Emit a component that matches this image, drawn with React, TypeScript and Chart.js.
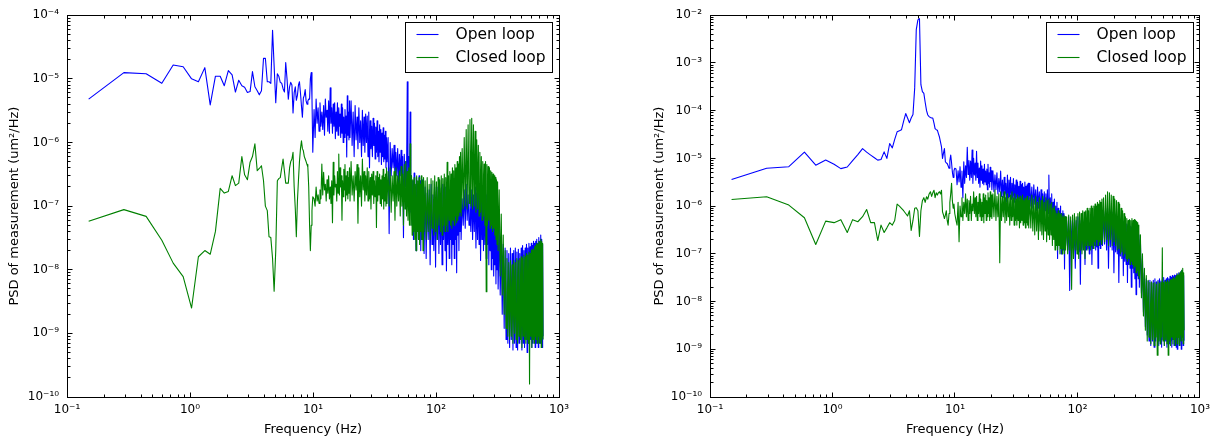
import React, { useEffect, useRef } from 'react';
import { Chart, registerables } from 'chart.js';

Chart.register(...registerables);

// Frequency bins (Hz), shared by all four traces
const freqHz = [
  0.15, 0.29, 0.44, 0.59, 0.73, 0.88, 1.03, 1.17, 1.32, 1.46,
  1.61, 1.76, 1.9, 2.05, 2.2, 2.34, 2.49, 2.64, 2.78, 2.93,
  3.08, 3.22, 3.37, 3.52, 3.66, 3.81, 3.96, 4.1, 4.25, 4.39,
  4.54, 4.69, 4.83, 4.98, 5.13, 5.27, 5.42, 5.57, 5.71, 5.86,
  6.0, 6.15, 6.3, 6.45, 6.59, 6.74, 6.88, 7.03, 7.18, 7.32,
  7.47, 7.62, 7.76, 7.91, 8.06, 8.2, 8.35, 8.5, 8.64, 8.79,
  8.94, 9.08, 9.23, 9.38, 9.52, 9.67, 9.81, 9.96,
  10.2, 10.4, 10.6, 10.8, 11, 11.2, 11.4, 11.6, 11.8, 12, 12.2, 12.4, 12.6, 12.8, 13, 13.2, 13.4, 13.6, 13.8, 14, 14.2, 14.4, 14.6, 14.8, 15,
  15.2, 15.4, 15.6, 15.8, 16, 16.2, 16.4, 16.6, 16.8, 17, 17.2, 17.4, 17.6, 17.8, 18, 18.2, 18.4, 18.6, 18.8, 19, 19.2, 19.4, 19.6, 19.8, 20,
  20.4, 20.8, 21.2, 21.6, 22, 22.4, 22.8, 23.2, 23.6, 24, 24.4, 24.8, 25.2, 25.6, 26, 26.4, 26.8, 27.2, 27.6, 28, 28.4, 28.8, 29.2, 29.6, 30,
  30.4, 30.8, 31.2, 31.6, 32, 32.4, 32.8, 33.2, 33.6, 34, 34.4, 34.8, 35.2, 35.6, 36, 36.4, 36.8, 37.2, 37.6, 38, 38.4, 38.8, 39.2, 39.6, 40,
  40.8, 41.6, 42.4, 43.2, 44, 44.8, 45.6, 46.4, 47.2, 48, 48.8, 49.6, 50.4, 51.2, 52, 52.8, 53.6, 54.4, 55.2, 56, 56.8, 57.6, 58.4, 59.2, 60,
  60.8, 61.6, 62.4, 63.2, 64, 64.8, 65.6, 66.4, 67.2, 68, 68.8, 69.6, 70.4, 71.2, 72, 72.8, 73.6, 74.4, 75.2, 76, 76.8, 77.6, 78.4, 79.2, 80,
  81.6, 83.2, 84.8, 86.4, 88, 89.6, 91.2, 92.8, 94.4, 96, 97.6, 99.2, 100.8, 102.4, 104, 105.6, 107.2, 108.8, 110.4, 112, 113.6, 115.2, 116.8, 118.4, 120,
  121.6, 123.2, 124.8, 126.4, 128, 129.6, 131.2, 132.8, 134.4, 136, 137.6, 139.2, 140.8, 142.4, 144, 145.6, 147.2, 148.8, 150.4, 152, 153.6, 155.2, 156.8, 158.4, 160,
  163.2, 166.4, 169.6, 172.8, 176, 179.2, 182.4, 185.6, 188.8, 192, 195.2, 198.4, 201.6, 204.8, 208, 211.2, 214.4, 217.6, 220.8, 224, 227.2, 230.4, 233.6, 236.8, 240,
  243.2, 246.4, 249.6, 252.8, 256, 259.2, 262.4, 265.6, 268.8, 272, 275.2, 278.4, 281.6, 284.8, 288, 291.2, 294.4, 297.6, 300.8, 304, 307.2, 310.4, 313.6, 316.8, 320,
  326.4, 332.8, 339.2, 345.6, 352, 358.4, 364.8, 371.2, 377.6, 384, 390.4, 396.8, 403.2, 409.6, 416, 422.4, 428.8, 435.2, 441.6, 448, 454.4, 460.8, 467.2, 473.6, 480,
  486.4, 492.8, 499.2, 505.6, 512, 518.4, 524.8, 531.2, 537.6, 544, 550.4, 556.8, 563.2, 569.6, 576, 582.4, 588.8, 595.2, 601.6, 608, 614.4, 620.8, 627.2, 633.6, 640,
  646.4, 652.8, 659.2, 665.6, 672, 678.4, 684.8, 691.2, 697.6, 704, 710.4, 716.8, 723.2, 729.6, 736, 742.4,
];

// Left panel, open loop (um^2/Hz)
const openLoopA = [
  4.8e-6, 1.25e-5, 1.2e-5, 8.5e-6, 1.65e-5, 1.55e-5, 1.0e-5, 9e-6, 1.5e-5, 3.9e-6,
  1.1e-5, 1.1e-5, 7.8e-6, 1.35e-5, 1.15e-5, 6.2e-6, 9.5e-6, 7.8e-6, 7.4e-6, 6.1e-6,
  6.3e-6, 1.3e-5, 7.5e-6, 6.5e-6, 5.6e-6, 6.5e-6, 2.1e-5, 2.1e-5, 9e-6, 9e-6,
  8.5e-6, 5.8e-5, 1.6e-5, 4.2e-6, 1.2e-5, 1.1e-5, 8.8e-6, 8.5e-6, 7e-6, 6.2e-6,
  1.8e-5, 1.0e-5, 4.8e-6, 7.5e-6, 8.8e-6, 8e-6, 2.9e-6, 6e-6, 7.5e-6, 4.6e-6,
  5.5e-6, 8e-6, 9e-6, 6e-6, 3.7e-6, 2.5e-6, 5e-6, 5.5e-6, 6.8e-6, 4.5e-6,
  4e-6, 4.5e-6, 4.8e-6, 4.8e-6, 1.0e-5, 1.25e-5, 5e-6, 7e-7,
  3.3e-6, 1.2e-6, 4.8e-6, 2e-6, 3.5e-6, 1.5e-6, 4.2e-6, 1.8e-6, 3e-6, 1.6e-6, 3.8e-6, 1.3e-6, 4.8e-6, 2.5e-6, 3.2e-6, 1.5e-6, 4.5e-6, 1.4e-6, 7.2e-6, 2e-6, 3.5e-6, 1.4e-6, 4e-6, 1.8e-6, 4.2e-6,
  1.15e-6, 3e-6, 1.5e-6, 4.2e-6, 1.3e-6, 3.5e-6, 1.8e-6, 2.8e-6, 1.2e-6, 4e-6, 1.4e-6, 3.5e-6, 1e-6, 2.5e-6, 1.2e-6, 3.3e-6, 1.4e-6, 2.6e-6, 5.9e-7, 5.4e-6, 1.3e-6, 3e-6, 1.1e-6, 4.5e-6, 1.2e-6,
  4.5e-6, 9e-7, 3e-6, 6e-7, 3.8e-6, 1.1e-6, 2.5e-6, 8e-7, 3.5e-6, 1e-6, 2.2e-6, 6e-7, 3.2e-6, 9e-7, 2.5e-6, 7e-7, 2.8e-6, 1e-6, 2.6e-6, 6e-7, 3e-6, 4e-7, 2.2e-6, 8e-7, 1.8e-6,
  6e-7, 2.4e-6, 9e-7, 2e-6, 5.5e-7, 1.75e-6, 7e-7, 2.2e-6, 6e-7, 1.5e-6, 5e-7, 1.9e-6, 7e-7, 1.6e-6, 4.5e-7, 1.4e-6, 6e-7, 1.7e-6, 5e-7, 1.3e-6, 5.5e-7, 1.5e-6, 4e-7, 1.2e-6, 5e-7,
  1.2e-6, 3.7e-8, 1e-6, 3e-7, 8e-7, 4e-7, 9e-7, 2.5e-7, 7e-7, 3e-7, 8e-7, 2.2e-7, 6.5e-7, 3e-7, 7.5e-7, 2e-7, 6e-7, 3.2e-8, 6.5e-7, 2e-7, 5e-7, 2.5e-7, 9e-6, 1.5e-7, 6e-7,
  1e-7, 3e-6, 8e-8, 3e-7, 5e-8, 2.5e-7, 3e-8, 3.3e-7, 4e-8, 2e-7, 2e-8, 2.8e-7, 5e-8, 2.2e-7, 3e-8, 3e-7, 4e-8, 2.5e-7, 2e-8, 2e-7, 3e-8, 2.6e-7, 5e-8, 2.2e-7, 1.8e-8,
  2e-7, 1.5e-8, 1.6e-7, 3e-8, 1.8e-7, 1.2e-8, 2.2e-7, 2.5e-8, 1.5e-7, 2e-8, 2e-7, 1.1e-8, 1.7e-7, 3e-8, 2e-7, 1.8e-8, 1.4e-7, 2.5e-8, 1.9e-7, 1.2e-8, 2.2e-7, 3e-8, 1.5e-7, 2e-8, 2e-7,
  9.6e-9, 1.6e-7, 2.5e-8, 2e-7, 1.5e-8, 1.8e-7, 3e-8, 1.6e-7, 1.2e-8, 2e-7, 2.5e-8, 1.8e-7, 1.5e-8, 2.2e-7, 3e-8, 2e-7, 9e-9, 1.8e-7, 3.5e-8, 2.3e-7, 2e-8, 2e-7, 4e-8, 2.5e-7, 3e-8,
  1.3e-7, 5e-8, 1.8e-7, 4.5e-8, 2.2e-7, 6e-8, 1.5e-7, 5e-8, 1.2e-7, 4e-8, 1.8e-7, 3e-8, 1.5e-7, 4e-8, 2e-7, 2.2e-8, 1.6e-7, 3e-8, 2e-7, 2.5e-8, 1.8e-7, 1.4e-8, 1.6e-7, 3e-8, 2e-7,
  2e-8, 1.7e-7, 2.5e-8, 1.8e-7, 1.5e-8, 1.5e-7, 2.5e-8, 1.6e-7, 1.2e-8, 1.3e-7, 2e-8, 1.2e-7, 1e-8, 1.1e-7, 1.5e-8, 1e-7, 8e-9, 9e-8, 1.2e-8, 8e-8, 6e-9, 7e-8, 1e-8, 5e-8, 5e-9,
  5e-8, 4e-9, 3e-8, 2e-9, 2.5e-8, 1.2e-9, 2.2e-8, 8e-10, 2e-8, 7e-10, 1.8e-8, 6e-10, 2.2e-8, 8e-10, 1.8e-8, 5.5e-10, 2e-8, 7e-10, 2.2e-8, 6e-10, 1.9e-8, 5.5e-10, 2.1e-8, 7e-10, 1.8e-8,
  8e-10, 2.2e-8, 5.5e-10, 2.4e-8, 7e-10, 2e-8, 6e-10, 2.2e-8, 8e-10, 2.5e-8, 5e-10, 2.2e-8, 7e-10, 2.6e-8, 6e-10, 2.3e-8, 8e-10, 2.6e-8, 6e-10, 2.4e-8, 7e-10, 2.8e-8, 9e-10, 2.6e-8, 6e-10,
  2.8e-8, 7e-10, 3e-8, 8e-10, 2.6e-8, 6e-10, 3.2e-8, 9e-10, 2.8e-8, 7e-10, 3.5e-8, 1e-9, 3e-8, 6e-10, 2.5e-8, 9e-10,
];

// Left panel, closed loop (um^2/Hz)
const closedLoopA = [
  5.8e-8, 8.8e-8, 6.9e-8, 2.9e-8, 1.27e-8, 7.8e-9, 2.5e-9, 1.6e-8, 2e-8, 1.75e-8,
  4e-8, 1.9e-7, 1.6e-7, 1.7e-7, 3e-7, 2.1e-7, 2.3e-7, 6e-7, 3.1e-7, 2.6e-7,
  4.9e-7, 6e-7, 9.5e-7, 3.6e-7, 3.9e-7, 4.3e-7, 2.5e-7, 1e-7, 8.5e-8, 3.3e-8,
  3.2e-8, 1.5e-8, 4.6e-9, 2e-8, 2.5e-7, 2.7e-7, 2.8e-7, 4e-7, 5.5e-7, 3.5e-7,
  2.3e-7, 2.3e-7, 2.3e-7, 4e-7, 5e-7, 5.5e-7, 7e-7, 2e-7, 9e-8, 3.3e-8,
  1.2e-7, 2.6e-7, 5e-7, 8e-7, 1.06e-6, 8e-7, 7.4e-7, 6e-7, 5.5e-7, 5e-7,
  4.5e-7, 4.1e-7, 2e-7, 5e-8, 2e-8, 5e-8, 8.5e-8, 1.4e-7,
  1.3e-7, 1e-7, 2e-7, 1.2e-7, 1.5e-7, 1.1e-7, 1.8e-7, 1.3e-7, 4.6e-7, 1.5e-7, 3.4e-7, 1.8e-7, 2.2e-7, 1.2e-7, 2.6e-7, 1.6e-7, 3e-7, 1.3e-7, 2e-7, 1.1e-7, 2.5e-7, 5.5e-8, 4.9e-7, 1.5e-7, 3e-7,
  2e-7, 2.2e-7, 1.2e-7, 3.5e-7, 1.6e-7, 6.6e-7, 1.5e-7, 4e-7, 2e-7, 3e-7, 6e-8, 2.5e-7, 1.4e-7, 3.8e-7, 1.8e-7, 4.5e-7, 1.2e-7, 3e-7, 1.5e-7, 3.5e-7, 1.3e-7, 2.8e-7, 1.6e-7, 4e-7, 1.2e-7,
  5e-7, 1.5e-7, 3e-7, 1.2e-7, 3.5e-7, 1.8e-7, 4.5e-7, 5.4e-8, 4e-7, 1.4e-7, 3e-7, 1e-7, 5.5e-7, 1.8e-7, 3.5e-7, 1.2e-7, 3e-7, 1.5e-7, 4e-7, 1.2e-7, 3.5e-7, 1.3e-7, 2.8e-7, 9e-8, 3.2e-7,
  1.5e-7, 3.5e-7, 1.1e-7, 2.5e-7, 1.4e-7, 3e-7, 4.6e-8, 3.5e-7, 1.2e-7, 2.8e-7, 1.5e-7, 3.2e-7, 1.1e-7, 2.6e-7, 1e-7, 3e-7, 1.3e-7, 3.8e-7, 9e-8, 2.8e-7, 1.2e-7, 3.2e-7, 1e-7, 4e-7, 1.1e-7,
  3.5e-7, 1e-7, 4e-7, 8e-8, 3e-7, 1.2e-7, 3.5e-7, 6e-8, 4e-7, 1e-7, 3e-7, 1.2e-7, 3.6e-7, 7e-8, 4.2e-7, 1e-7, 3.2e-7, 5e-8, 4.5e-7, 9e-8, 5e-7, 7e-8, 3.5e-7, 6e-8, 4e-7,
  5e-8, 9.5e-7, 5e-8, 3e-7, 3.5e-8, 2.6e-7, 4e-8, 2.8e-7, 3e-8, 2.2e-7, 2e-8, 3e-7, 4e-8, 2.5e-7, 3e-8, 2.8e-7, 2.5e-8, 2.2e-7, 4e-8, 3e-7, 3e-8, 2.5e-7, 2e-8, 2.8e-7, 4e-8,
  2.5e-7, 3e-8, 2.8e-7, 4e-8, 2.2e-7, 3e-8, 2.7e-7, 4.5e-8, 2.5e-7, 3.5e-8, 3e-7, 4e-8, 2.4e-7, 3e-8, 2.8e-7, 5e-8, 2.6e-7, 4e-8, 3e-7, 3.5e-8, 2.7e-7, 5e-8, 3.2e-7, 4e-8, 2.8e-7,
  5e-8, 4.9e-7, 4e-8, 3e-7, 6e-8, 3.5e-7, 5e-8, 3.2e-7, 4.5e-8, 4e-7, 6e-8, 3.6e-7, 5e-8, 4.5e-7, 7e-8, 4e-7, 5.5e-8, 5e-7, 6e-8, 4.6e-7, 7e-8, 6e-7, 8e-8, 7e-7, 7e-8,
  8e-7, 9e-8, 1.2e-6, 1e-7, 1.6e-6, 9e-8, 1.9e-6, 1.1e-7, 2.3e-6, 1e-7, 2.4e-6, 9e-8, 1.9e-6, 1e-7, 1.5e-6, 8e-8, 1.1e-6, 9e-8, 9e-7, 7e-8, 7e-7, 8e-8, 6e-7, 6e-8, 5e-7,
  7e-8, 4.6e-7, 5e-8, 5e-7, 4.5e-9, 4.5e-7, 5e-8, 4.2e-7, 6e-8, 4e-7, 4.5e-8, 3.6e-7, 5e-8, 3.4e-7, 4e-8, 3.2e-7, 4.5e-8, 3e-7, 3.5e-8, 2.8e-7, 3e-8, 2.6e-7, 2.5e-8, 2.4e-7, 2e-8,
  1.8e-7, 8e-9, 7.5e-8, 4e-9, 3.5e-8, 2e-9, 2e-8, 1.2e-9, 1.5e-8, 9e-10, 1.3e-8, 8e-10, 1.4e-8, 9e-10, 1.2e-8, 7e-10, 1.4e-8, 1e-9, 1.3e-8, 8e-10, 1.5e-8, 7e-10, 1.4e-8, 9e-10, 1.5e-8,
  8e-10, 1.6e-8, 6e-10, 1.5e-8, 9e-10, 1.7e-8, 8e-10, 1.6e-8, 7e-10, 1.8e-8, 8e-10, 1.7e-8, 7e-10, 1.9e-8, 1.6e-10, 1.8e-8, 9e-10, 2e-8, 6e-10, 2.1e-8, 8e-10, 2e-8, 7e-10, 2.3e-8, 9e-10,
  2.4e-8, 8e-10, 2.6e-8, 7e-10, 2.5e-8, 9e-10, 2.8e-8, 7e-10, 2.7e-8, 8e-10, 3e-8, 6e-10, 2.8e-8, 9e-10, 2.6e-8, 8e-10,
];

// Right panel, open loop (um^2/Hz)
const openLoopB = [
  3.6e-6, 6.2e-6, 6.7e-6, 1.35e-5, 7.2e-6, 9.2e-6, 7.5e-6, 6.1e-6, 6.6e-6, 9e-6,
  1.2e-5, 1.6e-5, 1.35e-5, 1.17e-5, 1.03e-5, 9.2e-6, 9.5e-6, 1.37e-5, 1e-5, 2.05e-5,
  1.66e-5, 2.5e-5, 3.6e-5, 3.8e-5, 4e-5, 6e-5, 8.7e-5, 7e-5, 5.6e-5, 7e-5,
  8.3e-5, 3e-4, 5e-3, 8e-3, 8.5e-3, 3.5e-4, 2.5e-4, 2.3e-4, 1.5e-4, 1e-4,
  8.1e-5, 7.5e-5, 7.2e-5, 7e-5, 7e-5, 5.5e-5, 4.2e-5, 4e-5, 3.9e-5, 3.3e-5,
  2.8e-5, 2.2e-5, 1.75e-5, 1e-5, 1.3e-5, 1.6e-5, 8.5e-6, 8e-6, 7.8e-6, 7e-6,
  6.2e-6, 9e-6, 1.17e-5, 8e-6, 5.2e-6, 4e-6, 5.5e-6, 6.2e-6,
  6e-6, 2.8e-6, 5.5e-6, 3.2e-6, 6.7e-6, 2.5e-6, 5.4e-6, 1.5e-6, 8.5e-6, 3e-6, 7e-6, 4e-6, 1.7e-5, 4.6e-6, 9e-6, 3.5e-6, 8.8e-6, 4e-6, 1.5e-5, 3e-6, 1e-5, 4.5e-6, 8e-6, 3.5e-6, 1.4e-5,
  4e-6, 8e-6, 3e-6, 6.3e-6, 2.5e-6, 8.8e-6, 3.5e-6, 7e-6, 3e-6, 6e-6, 2.8e-6, 7.5e-6, 3.2e-6, 5.4e-6, 2.8e-6, 6e-6, 2.2e-6, 7.5e-6, 3e-6, 5e-6, 2.5e-6, 6.5e-6, 3.3e-6, 5.5e-6, 2.2e-6,
  5.5e-6, 2e-6, 4.5e-6, 2.2e-6, 5e-6, 1.8e-6, 3.8e-6, 2e-6, 5.4e-6, 1.6e-6, 3.5e-6, 1.5e-6, 4e-6, 1.8e-6, 3e-6, 1.2e-6, 4.5e-6, 1.5e-6, 3.5e-6, 1.6e-6, 4e-6, 1.4e-6, 3e-6, 1.5e-6, 3.8e-6,
  1.2e-6, 2.8e-6, 1.4e-6, 3.5e-6, 1.3e-6, 3.2e-6, 1.2e-6, 2.6e-6, 1.4e-6, 3.3e-6, 1.1e-6, 2.8e-6, 1.3e-6, 3e-6, 1e-6, 2.5e-6, 1.2e-6, 3.2e-6, 1e-6, 2.6e-6, 1.1e-6, 2.8e-6, 9e-7, 3e-6, 1e-6,
  3e-6, 1e-6, 2.5e-6, 9e-7, 2.8e-6, 1.1e-6, 2.2e-6, 8e-7, 2.5e-6, 9e-7, 2e-6, 7e-7, 2.2e-6, 1e-6, 1.8e-6, 7e-7, 2e-6, 8e-7, 1.8e-6, 6e-7, 2.2e-6, 7e-7, 4.5e-6, 5e-7, 1.5e-6,
  6e-7, 1.8e-6, 4e-7, 1.2e-6, 5e-7, 1.4e-6, 2e-7, 1e-6, 3e-7, 1.2e-6, 8e-8, 9e-7, 2e-7, 8e-7, 1.5e-7, 1e-6, 1e-7, 7e-7, 2e-7, 8e-7, 1.2e-7, 7e-7, 4.8e-8, 6e-7, 1.5e-7,
  5e-7, 1.2e-7, 6e-7, 1.7e-8, 5e-7, 1.3e-7, 5.5e-7, 1e-7, 4.5e-7, 5e-8, 5e-7, 1.2e-7, 6e-7, 1.1e-7, 4.5e-7, 2.3e-8, 5e-7, 1.2e-7, 4e-7, 1.3e-7, 5e-7, 6e-8, 4.5e-7, 1.2e-7, 5e-7,
  1.3e-7, 4e-7, 1e-7, 4.5e-7, 1.4e-7, 5e-7, 6e-8, 5.5e-7, 1.3e-7, 6e-7, 1.5e-7, 5e-7, 1.2e-7, 6e-7, 1.4e-7, 6.5e-7, 5e-8, 7e-7, 1.5e-7, 6e-7, 1.3e-7, 7.5e-7, 1.6e-7, 8e-7, 1.5e-7,
  8e-7, 1.6e-7, 9e-7, 1.2e-7, 8.5e-7, 5e-8, 9e-7, 1.4e-7, 8e-7, 1.2e-7, 7.5e-7, 4e-8, 7e-7, 1.1e-7, 6.5e-7, 1e-7, 6e-7, 2.5e-8, 5.5e-7, 9e-8, 5e-7, 8e-8, 5e-7, 3.5e-8, 4.8e-7,
  7e-8, 4.5e-7, 6e-8, 4.2e-7, 2.5e-8, 4e-7, 6e-8, 4e-7, 5e-8, 3.8e-7, 2e-8, 3.6e-7, 5e-8, 3.5e-7, 4e-8, 3.4e-7, 3e-8, 3.2e-7, 1.4e-8, 3e-7, 3.5e-8, 2.8e-7, 3e-8, 2.5e-7, 2e-8,
  2e-7, 1.5e-8, 8e-8, 6e-9, 4e-8, 3e-9, 3e-8, 2e-9, 2.7e-8, 1.5e-9, 2.8e-8, 1.2e-9, 2.5e-8, 1.5e-9, 2.8e-8, 1.1e-9, 3e-8, 1.5e-9, 2.6e-8, 1.8e-9, 2.8e-8, 1.2e-9, 3e-8, 1.5e-9, 2.7e-8,
  1.1e-9, 3e-8, 1.6e-9, 3.2e-8, 1.2e-9, 2.8e-8, 1.5e-9, 3e-8, 1.1e-9, 3.2e-8, 1.8e-9, 3e-8, 1.3e-9, 3.4e-8, 1.5e-9, 3.2e-8, 1.1e-9, 3.5e-8, 1.6e-9, 3.3e-8, 1.2e-9, 3.6e-8, 1.5e-9, 3.5e-8, 1.1e-9,
  3.8e-8, 1e-9, 3.5e-8, 1.8e-9, 4e-8, 1.2e-9, 3.8e-8, 1.5e-9, 4.2e-8, 1e-9, 4.5e-8, 2e-9, 4e-8, 1.2e-9, 3.5e-8, 1.5e-9,
];

// Right panel, closed loop (um^2/Hz)
const closedLoopB = [
  1.38e-6, 1.57e-6, 1.05e-6, 5.7e-7, 1.57e-7, 4.85e-7, 4.5e-7, 5.2e-7, 2.8e-7, 5.2e-7,
  4.7e-7, 6e-7, 8.5e-7, 4.5e-7, 4.5e-7, 1.9e-7, 4e-7, 2.8e-7, 3.5e-7, 4.5e-7,
  4e-7, 5e-7, 1.1e-6, 1e-6, 9e-7, 8e-7, 7e-7, 6.2e-7, 8e-7, 3.1e-7,
  5e-7, 9e-7, 9.2e-7, 8e-7, 2.3e-7, 8e-7, 1.3e-6, 1.5e-6, 1.2e-6, 1.57e-6,
  1.4e-6, 1.8e-6, 2e-6, 1.6e-6, 1.9e-6, 2.15e-6, 1.5e-6, 1.9e-6, 1.7e-6, 1.9e-6,
  2e-6, 1.8e-6, 2.15e-6, 7.6e-7, 6.5e-7, 5.5e-7, 6.5e-7, 8e-7, 5e-7, 4e-7,
  7e-7, 1.2e-6, 1.8e-6, 3e-6, 1.3e-6, 9e-7, 1.1e-6, 7e-7,
  5e-7, 4e-7, 1.2e-6, 1.8e-7, 1e-6, 6e-7, 1.5e-6, 5e-7, 1.2e-6, 7e-7, 1.8e-6, 6e-7, 1.4e-6, 5e-7, 1.3e-6, 7e-7, 1.6e-6, 5e-7, 1.1e-6, 8e-7, 2e-6, 7e-7, 1.5e-6, 6e-7, 1.6e-6,
  5e-7, 1.2e-6, 7e-7, 1.8e-6, 6e-7, 1.4e-6, 5e-7, 1.2e-6, 6e-7, 1.8e-6, 4.5e-7, 1.5e-6, 7e-7, 1.7e-6, 5e-7, 1.3e-6, 6e-7, 1.9e-6, 7e-7, 1.5e-6, 5e-7, 2e-6, 6e-7, 1.7e-6, 5.5e-7,
  1.8e-6, 6e-7, 2.2e-6, 5e-7, 1.6e-6, 6e-7, 1.8e-6, 6.5e-8, 2e-6, 5e-7, 1.6e-6, 6e-7, 2e-6, 4.5e-7, 1.5e-6, 5e-7, 1.8e-6, 6e-7, 1.5e-6, 4e-7, 1.7e-6, 5e-7, 2e-6, 6e-7, 1.5e-6,
  4e-7, 1.8e-6, 5e-7, 1.4e-6, 4e-7, 1.7e-6, 5e-7, 1.5e-6, 3.5e-7, 1.6e-6, 4.5e-7, 1.4e-6, 5e-7, 1.7e-6, 4e-7, 1.3e-6, 4.5e-7, 1.5e-6, 3.5e-7, 1.4e-6, 4.5e-7, 1.6e-6, 4e-7, 1.3e-6, 3.5e-7,
  1.5e-6, 3.5e-7, 1.7e-6, 3e-7, 1.4e-6, 2.5e-7, 1.6e-6, 3e-7, 1.2e-6, 2e-7, 1.5e-6, 3e-7, 1.3e-6, 2.5e-7, 1.6e-6, 2e-7, 1.2e-6, 3e-7, 1.5e-6, 1.8e-7, 1.3e-6, 2.5e-7, 1.4e-6, 2e-7, 1.1e-6,
  2.5e-7, 1.2e-6, 1.5e-7, 9e-7, 2e-7, 1e-6, 1.2e-7, 8e-7, 1.5e-7, 7e-7, 1.2e-7, 8e-7, 1.5e-7, 7e-7, 1e-7, 6.5e-7, 1.3e-7, 7e-7, 1e-7, 6e-7, 1.3e-7, 6.5e-7, 1e-7, 6e-7, 1.2e-7,
  6e-7, 1e-7, 6.5e-7, 1.2e-7, 6e-7, 1.8e-8, 6.5e-7, 8e-8, 7e-7, 1.2e-7, 6e-7, 1e-7, 7e-7, 8e-8, 7.5e-7, 1.2e-7, 7e-7, 1e-7, 8e-7, 1.2e-7, 7.5e-7, 8e-8, 8e-7, 1.5e-7, 9e-7,
  1.2e-7, 8e-7, 1.5e-7, 9e-7, 1.2e-7, 1e-6, 1.5e-7, 9e-7, 1.3e-7, 1e-6, 1.8e-7, 1.1e-6, 1.5e-7, 1e-6, 2e-7, 1.2e-6, 1.5e-7, 1.1e-6, 1.8e-7, 1.3e-6, 2e-7, 1.2e-6, 1.6e-7, 1.4e-6, 2e-7,
  1.5e-6, 1.8e-7, 1.7e-6, 2e-7, 2e-6, 1.5e-7, 1.9e-6, 2e-7, 1.7e-6, 1.5e-7, 1.6e-6, 1.8e-7, 1.4e-6, 1.5e-7, 1.3e-6, 1.2e-7, 1.2e-6, 1.3e-7, 1.1e-6, 1e-7, 9e-7, 1.1e-7, 8e-7, 9e-8, 7e-7,
  1e-7, 6e-7, 8e-8, 5.5e-7, 7e-8, 5e-7, 8e-8, 5.2e-7, 6e-8, 5e-7, 7e-8, 5.5e-7, 6e-8, 5e-7, 5e-8, 5.2e-7, 5.5e-8, 5e-7, 4e-8, 4.8e-7, 4.5e-8, 4.5e-7, 3.5e-8, 4e-7, 3e-8,
  2.5e-7, 1.2e-8, 1e-7, 5e-9, 5e-8, 2.5e-9, 3.5e-8, 1.5e-9, 2.8e-8, 1.8e-9, 2.5e-8, 1.3e-9, 2.6e-8, 1.6e-9, 2.4e-8, 1.2e-9, 2.5e-8, 1.8e-9, 2.3e-8, 7.5e-10, 2.6e-8, 1.5e-9, 2.4e-8, 1.3e-9, 2.5e-8,
  1.8e-9, 1.34e-7, 1.5e-9, 2.5e-8, 1.2e-9, 2.7e-8, 1.6e-9, 2.5e-8, 1.3e-9, 2.8e-8, 7.5e-10, 2.6e-8, 1.5e-9, 2.9e-8, 1.2e-9, 2.8e-8, 1.8e-9, 3e-8, 1.3e-9, 3.2e-8, 1.6e-9, 3e-8, 1.2e-9, 3.3e-8, 1.8e-9,
  3.5e-8, 1.3e-9, 3.8e-8, 1.8e-9, 3.6e-8, 1.2e-9, 4e-8, 2e-9, 4.2e-8, 1.5e-9, 4.5e-8, 1.8e-9, 5e-8, 1.3e-9, 4e-8, 2.5e-9,
];

const seriesLabels = ['Open loop', 'Closed loop'];
const seriesColors = ['#0000ff', '#008000'];

const xTickValues = [0.1, 1, 10, 100, 1000];
const xTickLabels = ['10⁻¹', '10⁰', '10¹', '10²', '10³'];
const yTickValues = [1e-10, 1e-9, 1e-8, 1e-7, 1e-6, 1e-5, 1e-4, 1e-3, 1e-2];
const yTickLabels = ['10⁻¹⁰', '10⁻⁹', '10⁻⁸', '10⁻⁷', '10⁻⁶', '10⁻⁵', '10⁻⁴', '10⁻³', '10⁻²'];

const xAxisTitle = 'Frequency (Hz)';
const yAxisTitle = 'PSD of measurement (um²/Hz)';

const CANVAS_W = 608;
const CANVAS_H = 438;
const FONT = "'DejaVu Sans', 'Liberation Sans', sans-serif";

type Area = { left: number; right: number; top: number; bottom: number };
type Panel = { open: number[]; closed: number[]; yMax: number; area: Area; yTitlePad: number };

const panels: Panel[] = [
  { open: openLoopA, closed: closedLoopA, yMax: 1e-4, area: { left: 67, right: 559, top: 14, bottom: 397 }, yTitlePad: 7 },
  { open: openLoopB, closed: closedLoopB, yMax: 1e-2, area: { left: 102, right: 594, top: 14, bottom: 397 }, yTitlePad: 44 },
];

const frameTicksPlugin = {
  id: 'frameTicks',
  afterDatasetsDraw(chart: any) {
    const { ctx, chartArea: a, scales } = chart;
    const xs = scales.x;
    const ys = scales.y;
    const L = Math.floor(a.left) + 0.5;
    const R = Math.floor(a.right) + 0.5;
    const T = Math.floor(a.top) + 0.5;
    const B = Math.floor(a.bottom) + 0.5;
    ctx.save();
    ctx.strokeStyle = '#000';
    ctx.lineWidth = 1;
    ctx.beginPath();
    const each = (min: number, max: number, fn: (v: number, major: boolean) => void) => {
      const e0 = Math.round(Math.log10(min));
      const e1 = Math.round(Math.log10(max));
      for (let e = e0; e <= e1; e++) {
        for (let k = 1; k <= 9; k++) {
          const v = k * Math.pow(10, e);
          if (v < min * 0.999 || v > max * 1.001) continue;
          fn(v, k === 1);
        }
      }
    };
    each(xs.min, xs.max, (v, major) => {
      const len = major ? 5 : 3;
      const x = Math.floor(xs.getPixelForValue(v)) + 0.5;
      ctx.moveTo(x, B); ctx.lineTo(x, B - len);
      ctx.moveTo(x, T); ctx.lineTo(x, T + len);
    });
    each(ys.min, ys.max, (v, major) => {
      const len = major ? 5 : 3;
      const y = Math.floor(ys.getPixelForValue(v)) + 0.5;
      ctx.moveTo(L, y); ctx.lineTo(L + len, y);
      ctx.moveTo(R, y); ctx.lineTo(R - len, y);
    });
    ctx.stroke();
    ctx.strokeRect(L, T, R - L, B - T);
    ctx.restore();
  },
};

const legendPlugin = {
  id: 'boxLegend',
  afterDraw(chart: any) {
    const { ctx, chartArea: a } = chart;
    const w = 147;
    const h = 50;
    const x0 = Math.round(a.right - 7 - w) + 0.5;
    const y0 = Math.round(a.top + 7) + 0.5;
    ctx.save();
    ctx.fillStyle = '#ffffff';
    ctx.fillRect(x0, y0, w, h);
    ctx.strokeStyle = '#000';
    ctx.lineWidth = 1;
    ctx.strokeRect(x0, y0, w, h);
    chart.data.datasets.forEach((ds: any, i: number) => {
      const y = y0 + 12 + i * 23;
      ctx.strokeStyle = ds.borderColor;
      ctx.lineWidth = 1.1;
      ctx.beginPath();
      ctx.moveTo(x0 + 11, y);
      ctx.lineTo(x0 + 33, y);
      ctx.stroke();
      ctx.fillStyle = '#000';
      ctx.font = `15.5px ${FONT}`;
      ctx.textBaseline = 'middle';
      ctx.textAlign = 'left';
      ctx.fillText(ds.label, x0 + 50, y);
    });
    ctx.restore();
  },
};

function labelFor(vals: number[], labels: string[]) {
  return (value: any) => {
    const v = Number(value);
    const i = vals.findIndex((t) => Math.abs(Math.log10(t) - Math.log10(v)) < 1e-6);
    return i >= 0 ? labels[i] : '';
  };
}

function buildConfig(p: Panel): any {
  const n = Math.min(freqHz.length, p.open.length, p.closed.length);
  const toPoints = (vals: number[]) => freqHz.slice(0, n).map((f, i) => ({ x: f, y: vals[i] }));
  const yVals = yTickValues.filter((v) => v <= p.yMax * 1.001);
  const lineStyle = {
    borderWidth: 1.1,
    pointRadius: 0,
    pointHoverRadius: 0,
    fill: false,
    tension: 0,
    borderJoinStyle: 'round',
  };
  return {
    type: 'line',
    data: {
      datasets: [
        { ...lineStyle, label: seriesLabels[0], data: toPoints(p.open), borderColor: seriesColors[0], backgroundColor: seriesColors[0], order: 2 },
        { ...lineStyle, label: seriesLabels[1], data: toPoints(p.closed), borderColor: seriesColors[1], backgroundColor: seriesColors[1], order: 1 },
      ],
    },
    options: {
      animation: false,
      responsive: false,
      maintainAspectRatio: false,
      events: [],
      layout: { padding: { top: p.area.top, right: CANVAS_W - p.area.right, bottom: 0, left: 0 } },
      plugins: { legend: { display: false }, tooltip: { enabled: false } },
      scales: {
        x: {
          type: 'logarithmic',
          position: 'bottom',
          min: 0.1,
          max: 1000,
          afterBuildTicks: (s: any) => { s.ticks = xTickValues.map((v) => ({ value: v })); },
          afterFit: (s: any) => { s.height = CANVAS_H - p.area.bottom; },
          grid: { display: false, drawTicks: false },
          border: { display: false },
          ticks: {
            autoSkip: false, maxRotation: 0, minRotation: 0, padding: 6, color: '#000',
            font: { family: FONT, size: 12 },
            callback: labelFor(xTickValues, xTickLabels),
          },
          title: { display: true, text: xAxisTitle, color: '#000', font: { family: FONT, size: 13 }, padding: { top: 0, bottom: 1 } },
        },
        y: {
          type: 'logarithmic',
          position: 'left',
          min: 1e-10,
          max: p.yMax,
          afterBuildTicks: (s: any) => { s.ticks = yVals.map((v) => ({ value: v })); },
          afterFit: (s: any) => { s.width = p.area.left; },
          grid: { display: false, drawTicks: false },
          border: { display: false },
          ticks: {
            autoSkip: false, padding: 8, color: '#000',
            font: { family: FONT, size: 12 },
            callback: labelFor(yTickValues, yTickLabels),
          },
          title: { display: true, text: yAxisTitle, color: '#000', font: { family: FONT, size: 13 }, padding: { top: p.yTitlePad, bottom: 0 } },
        },
      },
    },
    plugins: [frameTicksPlugin, legendPlugin],
  };
}

export default function App() {
  const refA = useRef<HTMLCanvasElement>(null);
  const refB = useRef<HTMLCanvasElement>(null);

  useEffect(() => {
    const canvases = [refA.current, refB.current];
    const charts = canvases.map((c, i) => (c ? new Chart(c, buildConfig(panels[i])) : null));
    return () => {
      charts.forEach((ch) => ch && ch.destroy());
    };
  }, []);

  const canvasStyle = (left: number): React.CSSProperties => ({
    position: 'absolute', left, top: 0, width: CANVAS_W, height: CANVAS_H,
  });

  return (
    <div style={{ position: 'fixed', left: 0, top: 0, width: 1216, height: 438, background: '#fff' }}>
      <canvas ref={refA} width={CANVAS_W} height={CANVAS_H} style={canvasStyle(0)} />
      <canvas ref={refB} width={CANVAS_W} height={CANVAS_H} style={canvasStyle(608)} />
    </div>
  );
}
